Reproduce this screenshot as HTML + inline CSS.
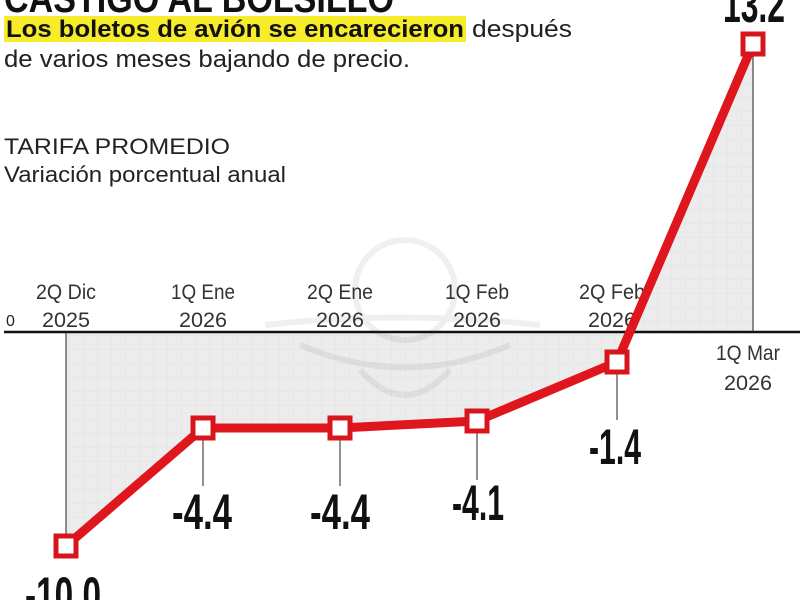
<!DOCTYPE html>
<html><head><meta charset="utf-8"><style>
body{margin:0;background:#fff;}
svg text{font-family:"Liberation Sans Narrow","Liberation Sans",sans-serif;}
</style></head><body>
<svg width="800" height="600" viewBox="0 0 800 600" xmlns="http://www.w3.org/2000/svg">
<defs>
<pattern id="g" width="14" height="14" patternUnits="userSpaceOnUse">
<rect width="14" height="14" fill="#ececec"/>
<path d="M14 0V14M0 14H14" stroke="#e2e2e2" stroke-width="1"/>
</pattern>
</defs>
<text x="4" y="12" font-size="40" font-weight="bold" fill="#111" textLength="390" lengthAdjust="spacingAndGlyphs">CASTIGO AL BOLSILLO</text>
<rect x="4" y="16" width="462" height="26" fill="#f6ec2a"/>
<text x="6" y="37" font-size="24" font-weight="bold" fill="#111" textLength="458" lengthAdjust="spacingAndGlyphs">Los boletos de avión se encarecieron</text>
<text x="472" y="37" font-size="24" fill="#222" textLength="100" lengthAdjust="spacingAndGlyphs">después</text>
<text x="4" y="67" font-size="24" fill="#222" textLength="406" lengthAdjust="spacingAndGlyphs">de varios meses bajando de precio.</text>
<text x="4" y="154" font-size="22" fill="#222" textLength="226" lengthAdjust="spacingAndGlyphs">TARIFA PROMEDIO</text>
<text x="4" y="182" font-size="22" fill="#222" textLength="282" lengthAdjust="spacingAndGlyphs">Variación porcentual anual</text>
<polygon points="66,332 66,546 203,428 340,428 477,421 617,362 753,44 753,332" fill="url(#g)"/>
<g opacity="0.06" fill="none" stroke="#000" stroke-width="6">
<circle cx="405" cy="290" r="50"/>
<path d="M265 325 Q400 310 540 325 M300 345 Q405 390 510 345 M360 370 Q405 420 450 370"/>
</g>
<line x1="4" y1="332" x2="800" y2="332" stroke="#111" stroke-width="2.5"/>
<text x="6" y="326" font-size="16" fill="#222">0</text>
<g font-size="21" fill="#333" text-anchor="middle" lengthAdjust="spacingAndGlyphs">
<text x="66" y="299" textLength="60" lengthAdjust="spacingAndGlyphs">2Q Dic</text><text x="66" y="327" textLength="48" lengthAdjust="spacingAndGlyphs">2025</text>
<text x="203" y="299" textLength="64" lengthAdjust="spacingAndGlyphs">1Q Ene</text><text x="203" y="327" textLength="48" lengthAdjust="spacingAndGlyphs">2026</text>
<text x="340" y="299" textLength="66" lengthAdjust="spacingAndGlyphs">2Q Ene</text><text x="340" y="327" textLength="48" lengthAdjust="spacingAndGlyphs">2026</text>
<text x="477" y="299" textLength="64" lengthAdjust="spacingAndGlyphs">1Q Feb</text><text x="477" y="327" textLength="48" lengthAdjust="spacingAndGlyphs">2026</text>
<text x="612" y="299" textLength="66" lengthAdjust="spacingAndGlyphs">2Q Feb</text><text x="612" y="327" textLength="48" lengthAdjust="spacingAndGlyphs">2026</text>
<text x="748" y="360" textLength="64" lengthAdjust="spacingAndGlyphs">1Q Mar</text><text x="748" y="390" textLength="48" lengthAdjust="spacingAndGlyphs">2026</text>
</g>
<g stroke="#222" stroke-width="1">
<line x1="66" y1="332" x2="66" y2="546"/>
<line x1="203" y1="428" x2="203" y2="486"/>
<line x1="340" y1="428" x2="340" y2="486"/>
<line x1="477" y1="421" x2="477" y2="480"/>
<line x1="617" y1="362" x2="617" y2="420"/>
<line x1="753" y1="44" x2="753" y2="332"/>
</g>
<polyline points="66,546 203,428 340,428 477,421 617,362 753,44" fill="none" stroke="#e0161e" stroke-width="9" stroke-linejoin="round"/>
<g fill="#fff" stroke="#d8141c" stroke-width="5">
<rect x="56" y="536" width="20" height="20"/>
<rect x="193" y="418" width="20" height="20"/>
<rect x="330" y="418" width="20" height="20"/>
<rect x="467" y="411" width="20" height="20"/>
<rect x="607" y="352" width="20" height="20"/>
<rect x="743" y="34" width="20" height="20"/>
</g>
<g font-size="50" font-weight="bold" fill="#111" text-anchor="middle">
<text x="63" y="612" textLength="76" lengthAdjust="spacingAndGlyphs">-10.0</text>
<text x="202" y="529" textLength="60" lengthAdjust="spacingAndGlyphs">-4.4</text>
<text x="340" y="529" textLength="60" lengthAdjust="spacingAndGlyphs">-4.4</text>
<text x="478" y="520" textLength="52" lengthAdjust="spacingAndGlyphs">-4.1</text>
<text x="615" y="464" textLength="52" lengthAdjust="spacingAndGlyphs">-1.4</text>
<text x="754" y="22" textLength="62" lengthAdjust="spacingAndGlyphs">13.2</text>
</g>
</svg>
</body></html>
